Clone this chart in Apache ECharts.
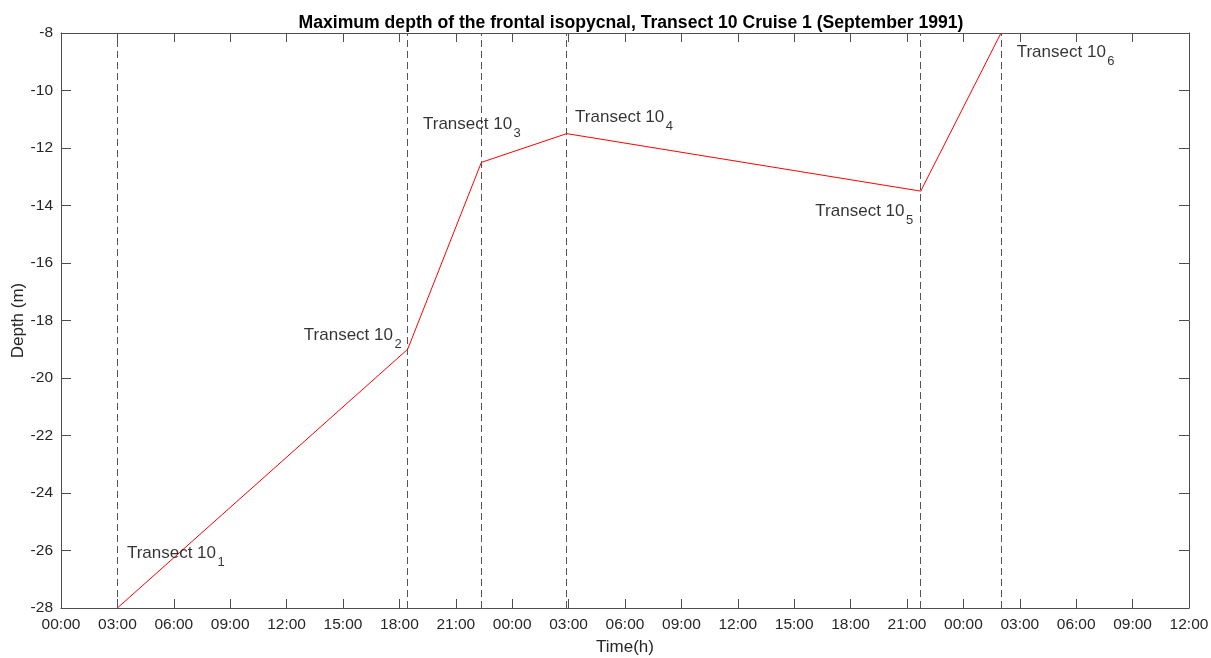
<!DOCTYPE html>
<html>
<head>
<meta charset="utf-8">
<script src="https://cdn.jsdelivr.net/npm/echarts@6/dist/echarts.min.js"></script>
<style>
  html, body { margin: 0; padding: 0; background: #fff; }
  #chart { width: 1211px; height: 658px; }
</style>
</head>
<body>
<div id="chart"></div>
<script>
// Transect occupation times (hours from 00:00 on the first day) and
// the maximum depth of the frontal isopycnal reached at each transect.
const transectHours = [3, 18.44, 22.36, 26.9, 45.73, 50];
const maxDepth = [-28, -19, -12.5, -11.5, -13.5, -8];
const transectIndex = ['1', '2', '3', '4', '5', '6'];

// Time axis tick labels, one every 3 hours over 60 hours.
const timeTickLabels = [
  '00:00', '03:00', '06:00', '09:00', '12:00', '15:00', '18:00', '21:00',
  '00:00', '03:00', '06:00', '09:00', '12:00', '15:00', '18:00', '21:00',
  '00:00', '03:00', '06:00', '09:00', '12:00'
];
const depthTicks = [-28, -26, -24, -22, -20, -18, -16, -14, -12, -10, -8];

const axisColor = '#4d4d4d';
const textColor = '#262626';
const fontFamily = '"Liberation Sans", Arial, Helvetica, sans-serif';

// Label placement for each transect annotation (align, offset in px).
const labelPlacement = [
  { align: 'left',  offset: [9.5, -63.5] },
  { align: 'right', offset: [-6, -22] },
  { align: 'left',  offset: [-58.4, -46.7] },
  { align: 'left',  offset: [8.4, -24.8] },
  { align: 'right', offset: [-7.5, 12] },
  { align: 'left',  offset: [15.7, 11] }
];

const points = transectHours.map((h, i) => [h, maxDepth[i]]);

const labelPoints = transectHours.map((h, i) => ({
  value: [h, maxDepth[i]],
  label: {
    show: true,
    position: 'inside',
    align: labelPlacement[i].align,
    verticalAlign: 'top',
    offset: labelPlacement[i].offset,
    formatter: '{main|Transect 10}{sub|' + transectIndex[i] + '}'
  }
}));

const xTickCommon = {
  type: 'value',
  min: 0,
  max: 60,
  interval: 3,
  splitLine: { show: false },
  axisLine: { show: true, onZero: false, lineStyle: { color: axisColor, width: 1 } },
  axisTick: { show: true, inside: true, length: 9, lineStyle: { color: axisColor } }
};
const yTickCommon = {
  type: 'value',
  min: -28,
  max: -8,
  interval: 2,
  splitLine: { show: false },
  axisLine: { show: true, onZero: false, lineStyle: { color: axisColor, width: 1 } },
  axisTick: { show: true, inside: true, length: 10, lineStyle: { color: axisColor } }
};

const chart = echarts.init(document.getElementById('chart'), null, { renderer: 'canvas' });

chart.setOption({
  animation: false,
  backgroundColor: '#ffffff',
  textStyle: { fontFamily: fontFamily },
  title: {
    text: 'Maximum depth of the frontal isopycnal, Transect 10 Cruise 1 (September 1991)',
    left: 626,
    textAlign: 'center',
    top: 9,
    textStyle: { fontSize: 17.6, fontWeight: 'bold', color: '#000', fontFamily: fontFamily }
  },
  grid: { left: 61, right: 22, top: 33, bottom: 50, containLabel: false, outerBoundsMode: 'none' },
  xAxis: [
    Object.assign({}, xTickCommon, {
      position: 'bottom',
      name: 'Time(h)',
      nameLocation: 'middle',
      nameGap: 31,
      nameMoveOverlap: false,
      nameTextStyle: { fontSize: 17, color: textColor, fontFamily: fontFamily },
      axisLabel: {
        margin: 9,
        fontSize: 15.5,
        color: textColor,
        fontFamily: fontFamily,
        formatter: v => timeTickLabels[Math.round(v / 3)]
      }
    }),
    Object.assign({}, xTickCommon, {
      position: 'top',
      axisLabel: { show: false }
    })
  ],
  yAxis: [
    Object.assign({}, yTickCommon, {
      position: 'left',
      name: 'Depth (m)',
      nameLocation: 'middle',
      nameGap: 34,
      nameMoveOverlap: false,
      nameRotate: 90,
      nameTextStyle: { fontSize: 17, color: textColor, fontFamily: fontFamily },
      axisLabel: {
        margin: 8,
        fontSize: 15.5,
        color: textColor,
        fontFamily: fontFamily,
        formatter: v => depthTicks.includes(v) ? String(v) : ''
      }
    }),
    Object.assign({}, yTickCommon, {
      position: 'right',
      axisLabel: { show: false }
    })
  ],
  series: [
    {
      type: 'line',
      data: points,
      xAxisIndex: 0,
      yAxisIndex: 0,
      symbol: 'none',
      silent: true,
      lineStyle: { color: '#ff0000', width: 1 },
      markLine: {
        silent: true,
        symbol: ['none', 'none'],
        label: { show: false },
        lineStyle: { color: '#555555', width: 1, type: [7, 4] },
        data: transectHours.map(h => ({ xAxis: h }))
      },
      z: 3
    },
    {
      type: 'scatter',
      data: labelPoints,
      xAxisIndex: 0,
      yAxisIndex: 0,
      symbolSize: 1,
      itemStyle: { color: 'rgba(0,0,0,0)' },
      silent: true,
      label: {
        show: true,
        color: '#000',
        rich: {
          main: { fontSize: 17, lineHeight: 17, verticalAlign: 'top', color: '#000', fontFamily: fontFamily },
          sub: { fontSize: 13, lineHeight: 13, verticalAlign: 'top', padding: [11, 0, 0, 1.5], color: '#000', fontFamily: fontFamily }
        }
      },
      z: 5
    }
  ]
});
</script>
</body>
</html>
